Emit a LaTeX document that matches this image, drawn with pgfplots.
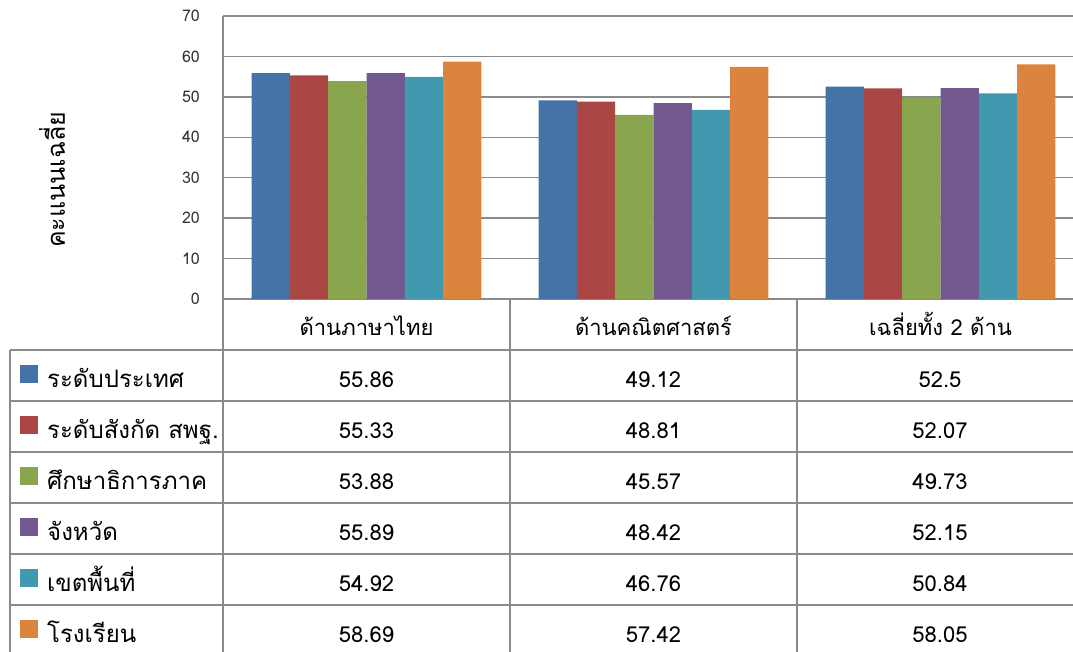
\documentclass[border=0pt]{standalone}
\usepackage{fontspec}
\setmainfont[Script=Thai]{Loma}
\usepackage{pgfplots}
\pgfplotsset{compat=1.18}
\definecolor{c1}{HTML}{4572A7}
\definecolor{c2}{HTML}{AA4643}
\definecolor{c3}{HTML}{89A54E}
\definecolor{c4}{HTML}{71588F}
\definecolor{c5}{HTML}{4198AF}
\definecolor{c6}{HTML}{DB843D}
\definecolor{gridc}{HTML}{8A8A8A}
\begin{document}
\begin{tikzpicture}
\useasboundingbox (0,0) rectangle (1073pt,-652pt);
\begin{axis}[
  at={(223pt,-299pt)}, anchor=south west,
  scale only axis, width=850pt, height=283pt,
  xmin=-0.5, xmax=2.4617, ymin=0, ymax=70,
  ytick={0,10,...,70},
  xtick={0,1,2},
  xticklabels={ด้านภาษาไทย,ด้านคณิตศาสตร์,เฉลี่ยทั้ง 2 ด้าน},
  ybar=0pt, bar width=38.3pt,
  axis x line*=bottom, axis y line*=left,
  axis line style={-,gridc,line width=1.5pt},
  ymajorgrids, grid style={gridc,line width=1.5pt},
  major tick length=0pt,
  /pgf/number format/assume math mode=true,
  yticklabel style={font=\fontsize{16}{16}\selectfont, color=black!80, anchor=east, inner sep=0pt, xshift=-23pt},
  xticklabel style={font=\fontsize{22}{22}\selectfont, anchor=base, inner sep=0pt, yshift=-36pt},
  clip=false,
]
\addplot[fill=c1,draw=none] coordinates {(0,55.86) (1,49.12) (2,52.5)};
\addplot[fill=c2,draw=none] coordinates {(0,55.33) (1,48.81) (2,52.07)};
\addplot[fill=c3,draw=none] coordinates {(0,53.88) (1,45.57) (2,49.73)};
\addplot[fill=c4,draw=none] coordinates {(0,55.89) (1,48.42) (2,52.15)};
\addplot[fill=c5,draw=none] coordinates {(0,54.92) (1,46.76) (2,50.84)};
\addplot[fill=c6,draw=none] coordinates {(0,58.69) (1,57.42) (2,58.05)};
\end{axis}
\begin{scope}[x=1pt,y=-1pt]
  \node[rotate=90, font=\fontsize{25}{25}\selectfont] at (52,180) {คะแนนเฉลี่ย};
  \foreach \yy in {350,401,452,503,554,605} \draw[gridc,line width=1.5pt] (10,\yy) -- (1073,\yy);
  \draw[gridc,line width=1.5pt] (10,350) -- (10,652);
  \foreach \xx in {223,510,797} \draw[gridc,line width=1.5pt] (\xx,299) -- (\xx,652);
  \foreach \lab/\col/\a/\b/\c [count=\i from 0] in {
      ระดับประเทศ/c1/55.86/49.12/52.5,
      ระดับสังกัด สพฐ./c2/55.33/48.81/52.07,
      ศึกษาธิการภาค/c3/53.88/45.57/49.73,
      จังหวัด/c4/55.89/48.42/52.15,
      เขตพื้นที่/c5/54.92/46.76/50.84,
      โรงเรียน/c6/58.69/57.42/58.05} {
    \pgfmathsetmacro\top{350+51*\i}
    \fill[\col] (20,\top+15) rectangle (38,\top+33);
    \node[anchor=base west, inner sep=0pt, font=\fontsize{24}{24}\selectfont] at (47,\top+37) {\lab};
    \node[anchor=base, inner sep=0pt, font=\fontsize{22}{22}\selectfont] at (366.5,\top+37) {\a};
    \node[anchor=base, inner sep=0pt, font=\fontsize{22}{22}\selectfont] at (653.5,\top+37) {\b};
    \node[anchor=base, inner sep=0pt, font=\fontsize{22}{22}\selectfont] at (940,\top+37) {\c};
  }
\end{scope}
\end{tikzpicture}
\end{document}
